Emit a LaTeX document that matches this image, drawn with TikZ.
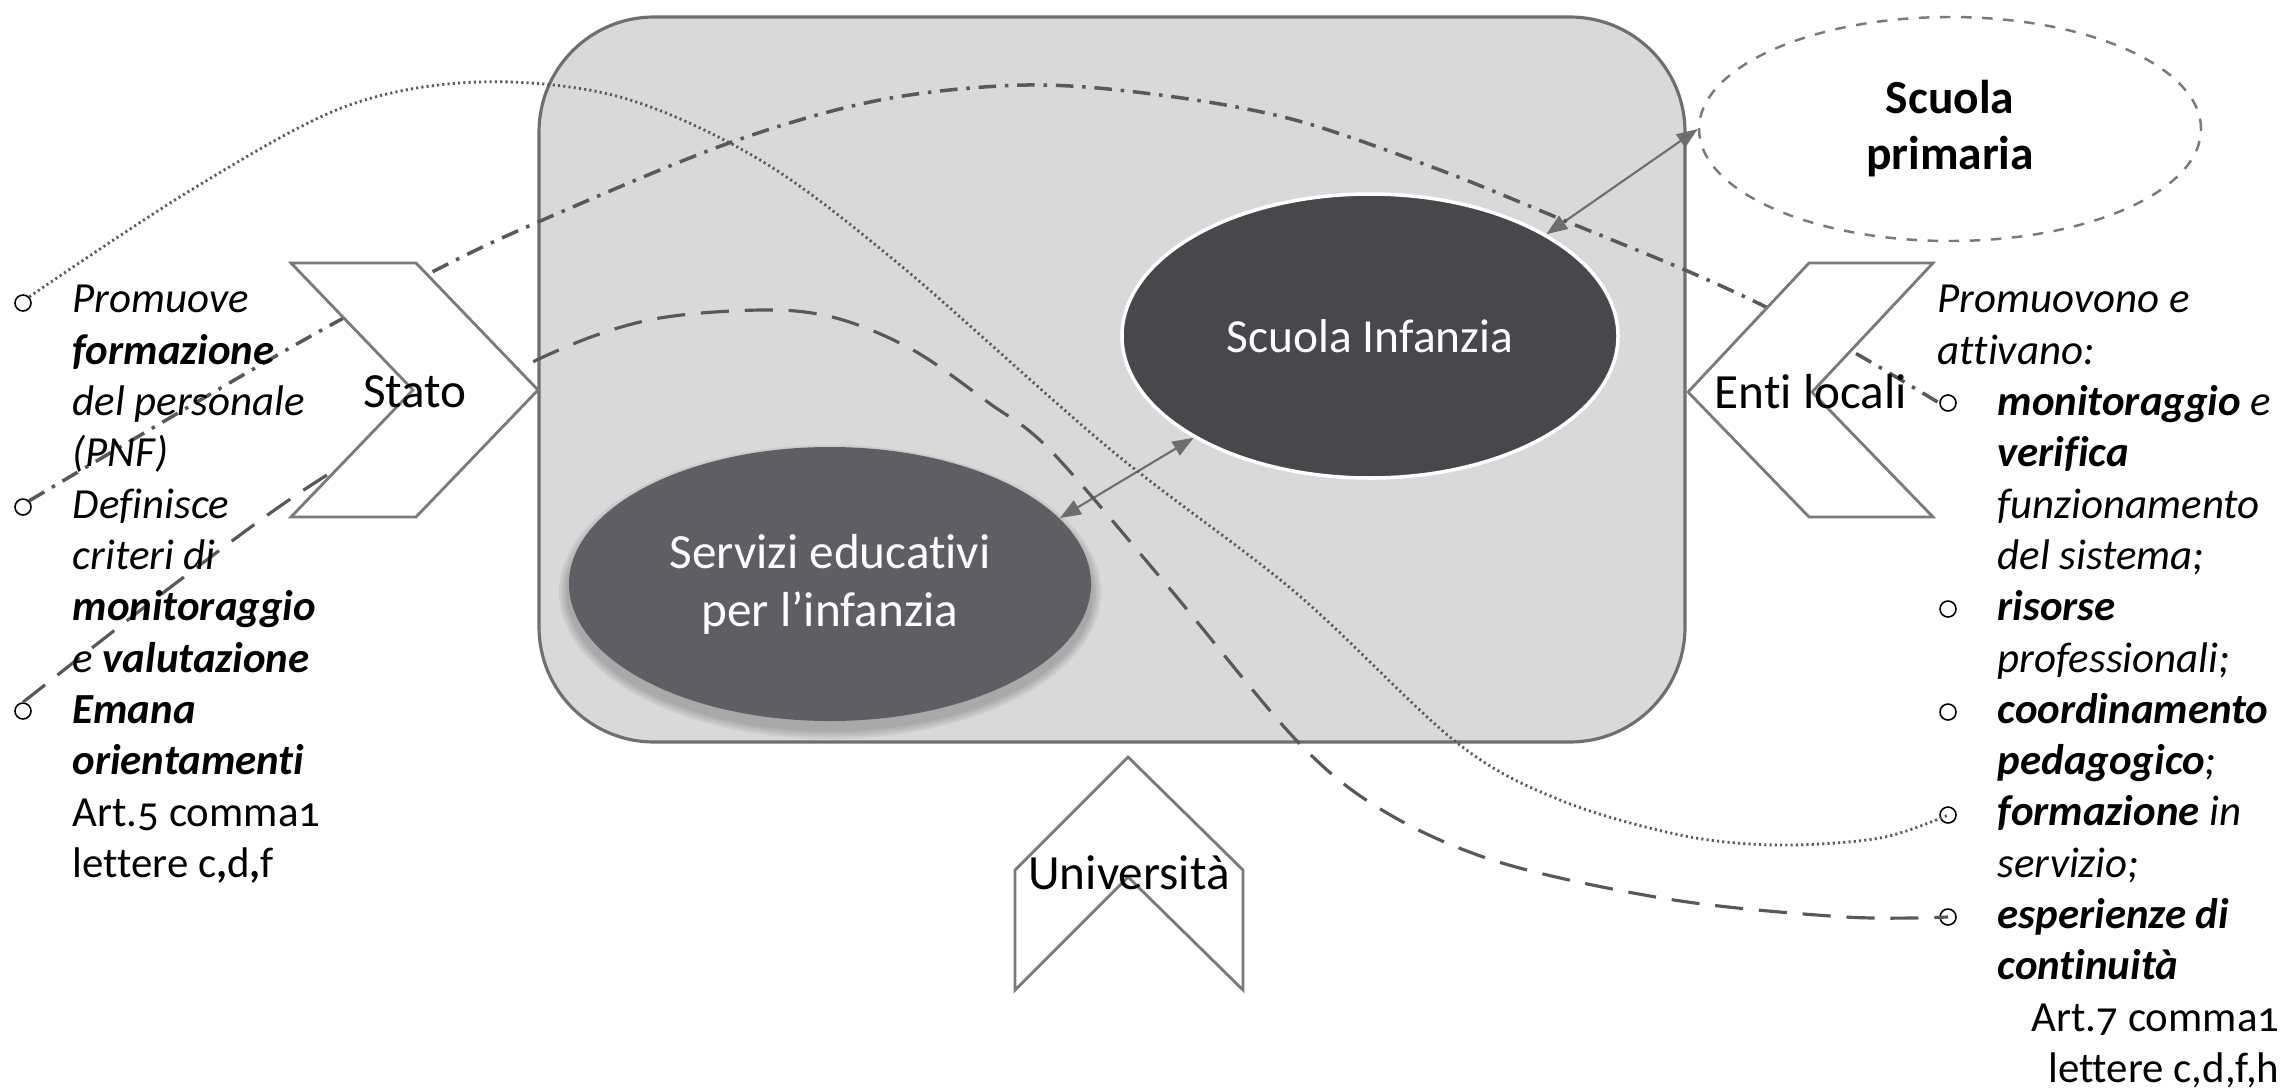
\documentclass[tikz,border=0pt]{standalone}
\usepackage{fontspec}
\setmainfont{Carlito}[Ligatures=NoCommon]
\usetikzlibrary{shapes.geometric,arrows.meta}
\definecolor{rectfill}{HTML}{D9D9D9}
\definecolor{rectline}{HTML}{6F6F6F}
\definecolor{chevline}{HTML}{7A7A7A}
\definecolor{sifill}{HTML}{48474C}
\definecolor{servfill}{HTML}{5F5E64}
\definecolor{curvecol}{HTML}{595959}
\definecolor{arrowcol}{HTML}{6E6E6E}
\begin{document}
\begin{tikzpicture}[x=0.1mm,y=-0.1mm,
  chev/.style={draw=chevline,line width=0.8pt,fill=white,line join=miter},
  chevlabel/.style={font=\fontsize{14}{16}\selectfont,inner sep=0pt},
  bul/.style={circle,draw=black,line width=0.45pt,minimum size=1.6mm,inner sep=0pt},
  listtext/.style={font=\fontsize{12.2}{14.6}\selectfont\itshape,align=left,inner sep=0pt,anchor=base west},
  dotcurve/.style={draw=curvecol,line width=0.8pt,dash pattern=on 0.6pt off 0.9pt},
  dashcurve/.style={draw=curvecol,line width=0.9pt,dash pattern=on 8pt off 4.5pt},
  dashdotcurve/.style={draw=curvecol,line width=1pt,dash pattern=on 5pt off 2.5pt on 1pt off 2.5pt},
  biarrow/.style={draw=arrowcol,line width=0.6pt,{Triangle[length=6pt,width=4.5pt]}-{Triangle[length=6pt,width=4.5pt]}}
]
\useasboundingbox (0,0) rectangle (2291,1090);

% main rounded container
\node[draw=rectline,fill=rectfill,line width=0.9pt,rounded corners=11.5mm,
      minimum width=114.6mm,minimum height=72.5mm,inner sep=0pt] (main) at (1112,379.5) {};

% shadow of Servizi ellipse
\foreach \i in {1,...,4}
  \fill[black,opacity=0.06] (830,592) ellipse [x radius={26.1mm+\i*0.25mm}, y radius={13.7mm+\i*0.25mm}];

\node[ellipse,fill=servfill,minimum width=52.2mm,minimum height=27.4mm,inner sep=0pt,
      text=white,align=center,font=\fontsize{14}{16.5}\selectfont] (serv) at (830,584)
      {Servizi educativi\\per l’infanzia};
\node[ellipse,fill=sifill,draw=white,line width=1pt,minimum width=49.6mm,minimum height=28.4mm,inner sep=0pt,
      text=white,font=\fontsize{13.5}{16}\selectfont] (si) at (1370,336) {Scuola Infanzia};
\node[ellipse,draw=chevline,dashed,line width=0.7pt,minimum width=50.2mm,minimum height=22.4mm,inner sep=0pt,
      align=center,font=\fontsize{13.5}{15.9}\selectfont\bfseries] (sp) at (1950,129) {Scuola\\primaria};

\draw[biarrow] (serv.16) -- (si.210);
\draw[biarrow] (si.30) -- (sp.180);

% bullets
\node[bul] (bL1) at (23,303) {};
\node[bul] (bL2) at (23,507) {};
\node[bul] (bL3) at (23,711) {};
\node[bul] (bR1) at (1948,403) {};
\node[bul] (bR2) at (1948,609) {};
\node[bul] (bR3) at (1948,712) {};
\node[bul] (bR4) at (1948,815) {};
\node[bul] (bR5) at (1948,917) {};

% curves
\draw[dotcurve] plot[smooth,tension=0.55] coordinates {(bL1.north east) (191,190) (344,107) (478,82) (620,97) (760,160) (900,265) (1111,450) (1295,592) (1456,742) (1560,800) (1680,835) (1777,845) (1880,838) (bR4.center)};
\draw[dashcurve] plot[smooth,tension=0.55] coordinates {(bL3.north) (180,580) (327,475) (520,368) (640,322) (760,310) (836,318) (913,350) (989,403) (1050,450) (1165,583) (1298,742) (1387,813) (1502,863) (1674,900) (1846,917) (bR5.center)};
\draw[dashdotcurve] plot[smooth,tension=0.55] coordinates {(bL2.north east) (295,345) (436,270) (538,222) (729,143) (880,100) (1027,85) (1160,95) (1295,120) (1440,170) (1563,220) (1685,270) (1764,306) (1848,349) (bR1.west)};

% chevrons
\draw[chev] (291,263) -- (416,263) -- (538,390) -- (416,517) -- (291,517) -- (413,390) -- cycle;
\draw[chev] (1688,392) -- (1809,263) -- (1933,263) -- (1812,392) -- (1933,517) -- (1809,517) -- cycle;
\draw[chev] (1128,757) -- (1243,870) -- (1243,990) -- (1128,877) -- (1015,990) -- (1015,870) -- cycle;
\node[chevlabel] (stato) at (415,392) {Stato};
\node[chevlabel] (enti) at (1811,392) {Enti locali};
\node[chevlabel] (univ) at (1129,873) {Università};

% left list (anchor = baseline of last line)
\node[listtext] (left) at (72,877.3) {Promuove\\
\textbf{formazione}\\
del personale\\
(PNF)\\
Definisce\\
criteri di\\
\textbf{monitoraggio}\\
e \textbf{valutazione}\\
\textbf{Emana}\\
\textbf{orientamenti}\\
\upshape\addfontfeatures{Numbers=OldStyle}Art.5 comma1\\
\upshape lettere c\textbf{,}d\textbf{,}f};

% right list
\node[listtext] (righthead) at (1937,364.3) {Promuovono e\\attivano:};
\node[listtext] (rightitems) at (1997,979.9) {\textbf{monitoraggio} e\\
\textbf{verifica}\\
funzionamento\\
del sistema;\\
\textbf{risorse}\\
professionali;\\
\textbf{coordinamento}\\
\textbf{pedagogico};\\
\textbf{formazione} in\\
servizio;\\
\textbf{esperienze di}\\
\textbf{continuità}};
\node[listtext,anchor=base east,align=right,font=\fontsize{12.2}{14.6}\selectfont\addfontfeatures{Numbers=OldStyle}] (rightart) at (2280,1082.3) {Art.7 comma1\\lettere c,d,f,h};
\end{tikzpicture}
\end{document}
